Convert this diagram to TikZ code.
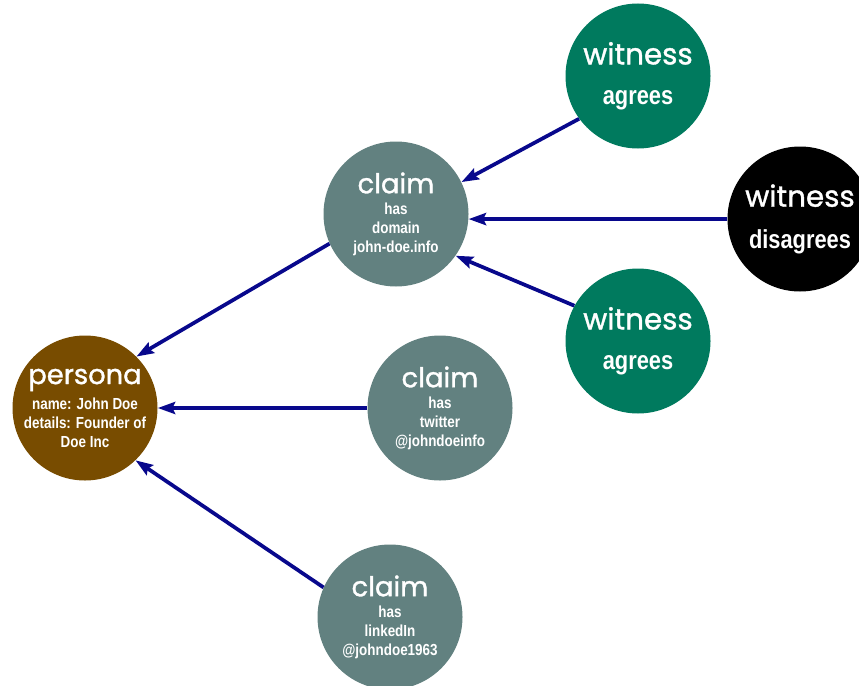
\documentclass[tikz,border=0pt]{standalone}
\usepackage{fontspec}
\newfontfamily\titlefont[FakeBold=1.2]{Poppins}
\newfontfamily\notefont[FakeStretch=0.84]{Liberation Sans}
\usetikzlibrary{arrows.meta}
\definecolor{personabrown}{RGB}{120,76,0}
\definecolor{claimgray}{RGB}{98,129,128}
\definecolor{witnessgreen}{RGB}{0,122,94}
\definecolor{edgeblue}{RGB}{8,8,140}
\newcommand{\kind}[2][20.5]{{\fontsize{#1}{#1}\titlefont\mdseries #2}}
\newcommand{\verdict}[1]{{\fontsize{19.5}{19.5}\selectfont #1}}

\begin{document}
\begin{tikzpicture}[x=0.75pt,y=-0.75pt,
		bubble/.style={circle,minimum size=108.75pt,inner sep=0pt,text=white,align=center,
			font=\notefont\bfseries\fontsize{12}{14.25}\selectfont},
		persona/.style={bubble,fill=personabrown},
		claim/.style={bubble,fill=claimgray},
		witness/.style={bubble,fill=witnessgreen},
		link/.style={draw=edgeblue,line width=2.8pt,-{Stealth[length=13pt,width=9pt,inset=2pt]}}]
			\clip (0,0) rectangle (859,685);
			\node[persona] (persona) at (85,408) {\kind{persona}\\[4.5pt] name: John Doe\\ details: Founder of\\ Doe Inc};
			\node[claim] (domain) at (396,214) {\kind{claim}\\[1.5pt] has\\ domain\\ john-doe.info};
			\node[claim] (twitter) at (440,408) {\kind{claim}\\[1.5pt] has\\ twitter\\ @johndoeinfo};
			\node[claim] (linkedin) at (390,617) {\kind{claim}\\[1.5pt] has\\ linkedIn\\ @johndoe1963};
			\node[witness] (agreeA) at (638,76) {\kind[22]{witness}\\[15.75pt] \verdict{agrees}};
			\node[bubble,fill=black] (disagree) at (800,219) {\kind[22]{witness}\\[15.75pt] \verdict{disagrees}};
			\node[witness] (agreeB) at (638,341) {\kind[22]{witness}\\[15.75pt] \verdict{agrees}};
			\draw[link] (agreeA.216) -- (domain.26);
			\draw[link] (disagree.180) -- (domain.-4);
			\draw[link] (agreeB.151) -- (domain.-35);
			\draw[link] (domain.204) -- (persona.45);
			\draw[link] (twitter.180) -- (persona.0);
			\draw[link] (linkedin.156) -- (persona.-46);
		\end{tikzpicture}
\end{document}
